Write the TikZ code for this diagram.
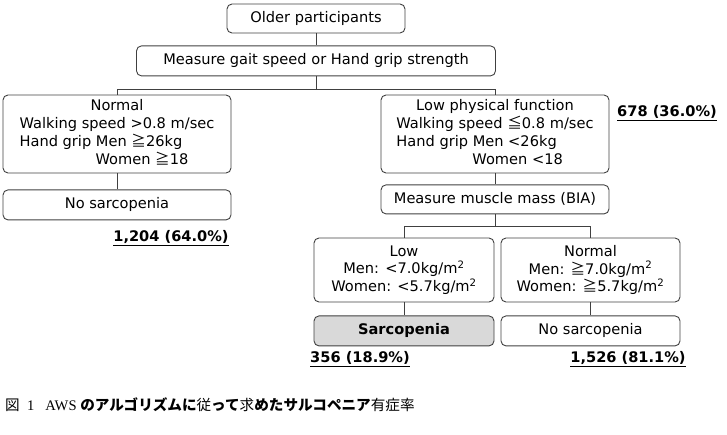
\documentclass[tikz,border=0pt]{standalone}
\usepackage{fontspec}
\setmainfont{DejaVu Sans}
\newfontfamily\jpfont{Noto Sans CJK JP}
\newfontfamily\capserif{Liberation Serif}
\usepackage{tikz}
\usepackage{xcolor}
\usetikzlibrary{positioning}
\definecolor{edge}{HTML}{404040}
\definecolor{sarcfill}{HTML}{D9D9D9}

\begin{document}
\begin{tikzpicture}[
    x=1pt, y=-1pt,
    font=\fontsize{14.6}{17.8}\selectfont,
    box/.style={rectangle, rounded corners=5pt, draw=edge, line width=0.9pt, align=center, inner sep=0pt},
    wbox/.style={box, minimum width=228pt},
    count/.style={font=\fontsize{14.6}{17.8}\selectfont\bfseries},
    flow/.style={draw=edge, line width=0.9pt}
  ]
    \useasboundingbox (0,0) rectangle (727,434);
    \node[box, minimum width=178pt, minimum height=29pt] (obox) at (316,18.5) {Older participants};
    \node[box, minimum width=359pt, minimum height=30pt, below=12pt of obox] (gbox) {Measure gait speed or Hand grip strength};
    \node[wbox, minimum height=78pt] (nbox) at (117,134) {\begin{tabular}{@{}l@{}}
      \multicolumn{1}{@{}c@{}}{Normal}\\
      Walking speed >0.8 m/sec\\
      Hand grip Men {\jpfont ≧}26kg\\
      \hspace*{76pt}Women {\jpfont ≧}18
    \end{tabular}};
    \node[wbox, minimum height=78pt] (lbox) at (495,134) {\begin{tabular}{@{}l@{}}
      \multicolumn{1}{@{}c@{}}{Low physical function}\\
      Walking speed {\jpfont ≦}0.8 m/sec\\
      Hand grip Men <26kg\\
      \hspace*{76pt}Women <18
    \end{tabular}};
    \node[wbox, minimum height=30pt, below=16pt of nbox] (nsbox) {No sarcopenia};
    \node[wbox, minimum height=29pt, below=11pt of lbox] (mbox) {Measure muscle mass (BIA)};
    \node[box, minimum width=180pt, minimum height=64pt] (lowbox) at (404,270) {Low\\Men: <7.0kg/m\textsuperscript{2}\\Women: <5.7kg/m\textsuperscript{2}};
    \node[box, minimum width=179pt, minimum height=64pt] (normbox) at (590.5,270) {Normal\\Men: {\jpfont ≧}7.0kg/m\textsuperscript{2}\\Women: {\jpfont ≧}5.7kg/m\textsuperscript{2}};
    \node[box, minimum width=180pt, minimum height=30pt, fill=sarcfill, font=\fontsize{14.6}{17.8}\selectfont\bfseries, below=13pt of lowbox] (sbox) {Sarcopenia};
    \node[box, minimum width=179pt, minimum height=30pt, below=13pt of normbox] (nsbox2) {No sarcopenia};
    % counts
    \node[count] (c678) at (667,113) {\underline{678 (36.0\%)}};
    \node[count] (c1204) at (171,238) {\underline{1,204 (64.0\%)}};
    \node[count] (c356) at (360,359) {\underline{356 (18.9\%)}};
    \node[count] (c1526) at (628,359) {\underline{1,526 (81.1\%)}};
    % caption
    \node[anchor=west, inner sep=0pt, font=\fontsize{14.6}{17}\selectfont] (cap) at (5,405)
      {{\jpfont 図}{\capserif\ \ 1\ \ \ AWS\ }{\jpfont\bfseries のアルゴリズムに}{\jpfont 従}{\jpfont\bfseries って}{\jpfont 求}{\jpfont\bfseries めたサルコペニア}{\jpfont 有症率}};
    % connectors
    \draw[flow] (obox) -- (gbox);
    \draw[flow] (gbox.south) -- ++(0,13) -| (nbox.north);
    \draw[flow] (gbox.south) -- ++(0,13) -| (lbox.north);
    \draw[flow] (nbox) -- (nsbox);
    \draw[flow] (lbox) -- (mbox);
    \draw[flow] (mbox.south) -- ++(0,12) -| (lowbox.north);
    \draw[flow] (mbox.south) -- ++(0,12) -| (normbox.north);
    \draw[flow] (lowbox) -- (sbox);
    \draw[flow] (normbox) -- (nsbox2);
  \end{tikzpicture}
\end{document}
